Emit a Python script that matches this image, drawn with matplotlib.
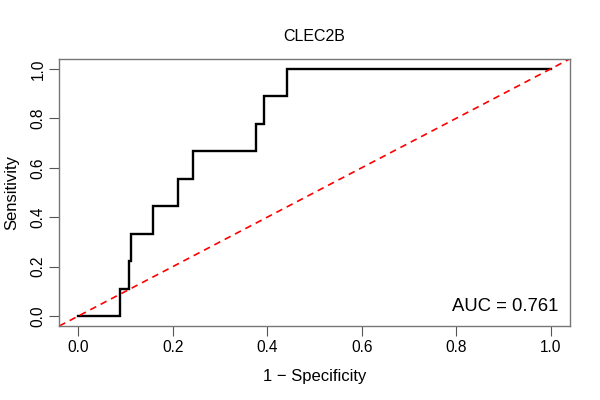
import matplotlib
matplotlib.use("Agg")
import matplotlib.pyplot as plt

plt.rcParams["font.family"] = ["Liberation Sans", "DejaVu Sans"]

# ROC curve step points (1 - specificity, sensitivity)
fpr = [0.0, 0.088, 0.088, 0.107, 0.107, 0.112, 0.112, 0.159, 0.159, 0.211, 0.211,
       0.243, 0.243, 0.376, 0.376, 0.394, 0.394, 0.443, 0.443, 1.0]
tpr = [0.0, 0.0, 0.111, 0.111, 0.222, 0.222, 0.333, 0.333, 0.444, 0.444, 0.556,
       0.556, 0.667, 0.667, 0.778, 0.778, 0.889, 0.889, 1.0, 1.0]
ticks = [0.0, 0.2, 0.4, 0.6, 0.8, 1.0]
gene = "CLEC2B"
auc = 0.761

fig = plt.figure(figsize=(6, 4), dpi=100)
ax = fig.add_axes([0.0988, 0.185, 0.8505, 0.6675])

ax.plot(fpr, tpr, color="black", lw=1.7, solid_joinstyle="miter")
ax.axline((0, 0), (1, 1), color="red", lw=1.2, linestyle=(0, (4, 3)))

ax.set_xlim(-0.04, 1.04)
ax.set_ylim(-0.04, 1.04)
ax.set_xticks(ticks)
ax.set_yticks(ticks)
ax.set_xticklabels([f"{t:.1f}" for t in ticks], fontsize=11.2)
ax.set_yticklabels([f"{t:.1f}" for t in ticks], fontsize=11.2, rotation=90, va="center")
ax.tick_params(length=7, width=0.8, color="#555555", pad=3)
for s in ax.spines.values():
    s.set_color("#777777")
    s.set_linewidth(1.0)

ax.set_xlabel("1 \u2212 Specificity", fontsize=12, labelpad=10)
ax.set_ylabel("Sensitivity", fontsize=12, labelpad=8)
ax.set_title(gene, fontsize=11.5, pad=13)
ax.text(1.017, 0.022, f"AUC = {auc:.3f}", fontsize=13.3, ha="right", va="baseline")

fig.savefig("out.png", dpi=100)
